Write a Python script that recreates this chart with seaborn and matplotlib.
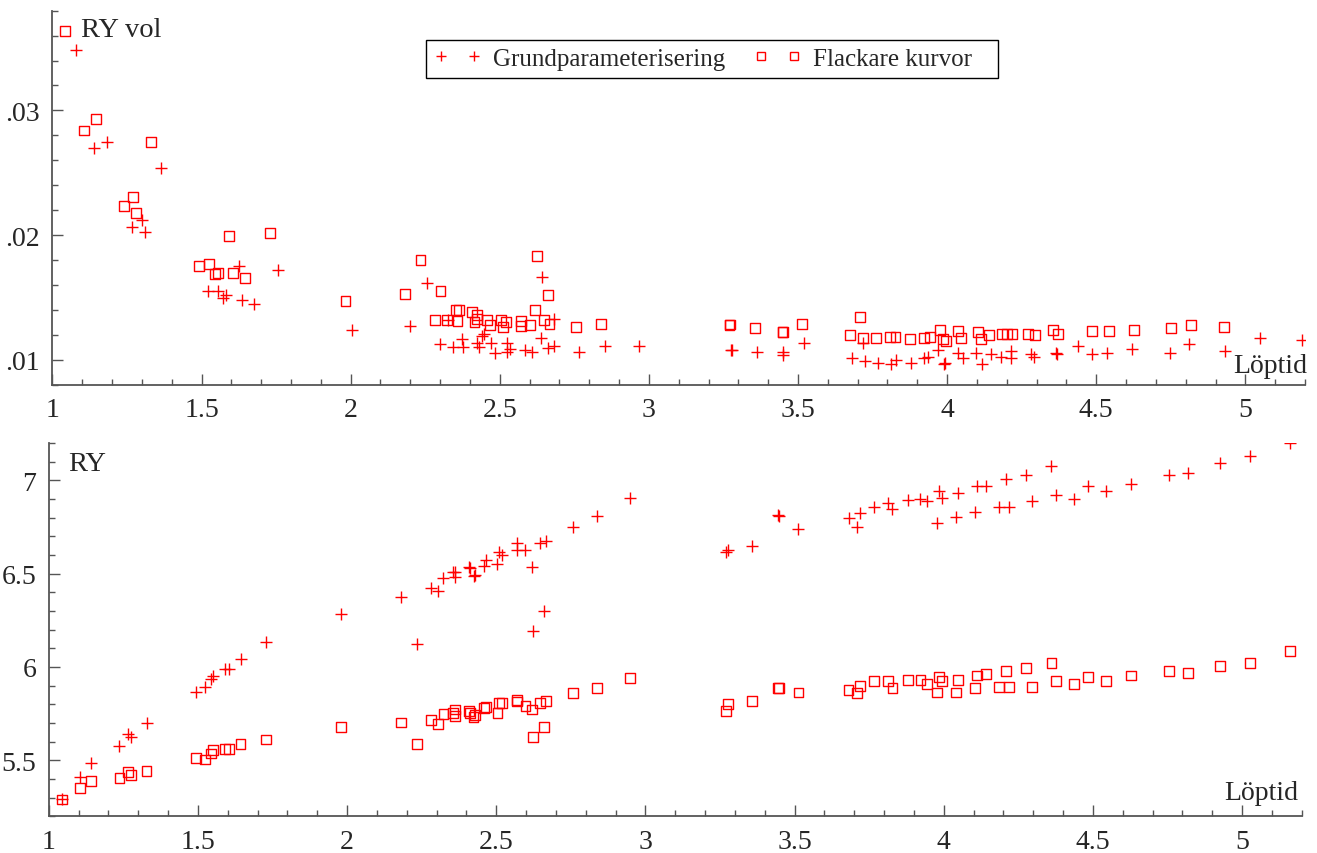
"""RY vol and RY against Löptid for two parameterisations"""
import matplotlib

matplotlib.use("Agg")
import matplotlib.pyplot as plt
import pandas as pd
import seaborn as sns
from matplotlib.lines import Line2D
from matplotlib.ticker import FuncFormatter, MultipleLocator

# top panel (RY vol), Grundparameterisering
vol_grund_x = [1.078, 1.140, 1.183, 1.268, 1.302, 1.311, 1.363, 1.522, 1.554, 1.573,
               1.583, 1.624, 1.637, 1.675, 1.757, 2.005,
               2.200, 2.257, 2.299, 2.325, 2.342, 2.372, 2.376, 2.425, 2.432, 2.441,
               2.446, 2.472, 2.483, 2.525, 2.525, 2.535, 2.583, 2.609, 2.641, 2.639,
               2.663, 2.681, 2.683, 2.765, 2.854, 2.966,
               3.276, 3.280, 3.361, 3.451, 3.451, 3.519, 3.681, 3.719, 3.725, 3.767,
               3.812, 3.829, 3.879, 3.924, 3.936, 3.970, 3.989, 3.994, 4.037, 4.052,
               4.098, 4.117, 4.148, 4.179, 4.213, 4.213, 4.281, 4.292, 4.366, 4.368,
               4.438, 4.485, 4.535, 4.621, 4.746, 4.811, 4.932, 5.049, 5.189]
vol_grund_y = [0.03488, 0.02695, 0.02743, 0.02066, 0.02117, 0.02023, 0.02537, 0.01554,
               0.01554, 0.01493, 0.01517, 0.01755, 0.01477, 0.01445, 0.01718, 0.01236,
               0.01273, 0.01616, 0.01125, 0.01321, 0.01102, 0.01166, 0.01102, 0.01131,
               0.01102, 0.01188, 0.01206, 0.01137, 0.01056, 0.01137, 0.01065, 0.01086,
               0.01075, 0.01064, 0.01660, 0.01172, 0.01092, 0.01327, 0.01110, 0.01062,
               0.01112, 0.01112,
               0.01078, 0.01082, 0.01064, 0.01064, 0.01040, 0.01137, 0.01011, 0.01134,
               0.00987, 0.00976, 0.00965, 0.00998, 0.00976, 0.01011, 0.01022, 0.01078,
               0.00965, 0.00976, 0.01051, 0.01011, 0.01056, 0.00965, 0.01046, 0.01022,
               0.01067, 0.01011, 0.01046, 0.01022, 0.01056, 0.01046, 0.01112, 0.01043,
               0.01054, 0.01088, 0.01056, 0.01126, 0.01067, 0.01172, 0.01158]

# top panel (RY vol), Flackare kurvor
vol_flack_x = [1.041, 1.107, 1.146, 1.241, 1.270, 1.280, 1.331, 1.492, 1.526, 1.545,
               1.554, 1.592, 1.606, 1.645, 1.730, 1.983,
               2.181, 2.234, 2.282, 2.301, 2.324, 2.352, 2.358, 2.362, 2.406, 2.415,
               2.425, 2.425, 2.458, 2.468, 2.505, 2.511, 2.520, 2.572, 2.572, 2.601,
               2.619, 2.624, 2.648, 2.663, 2.667, 2.756, 2.839,
               3.270, 3.272, 3.357, 3.448, 3.450, 3.514, 3.675, 3.709, 3.718, 3.761,
               3.808, 3.827, 3.875, 3.923, 3.942, 3.976, 3.985, 3.996, 4.037, 4.047,
               4.104, 4.114, 4.141, 4.184, 4.202, 4.219, 4.272, 4.294, 4.355, 4.371,
               4.486, 4.542, 4.627, 4.751, 4.817, 4.928]
vol_flack_y = [0.03638, 0.02839, 0.02931, 0.02235, 0.02304, 0.02178, 0.02749, 0.01755,
               0.01766, 0.01688, 0.01696, 0.01994, 0.01699, 0.01654, 0.02018, 0.01471,
               0.01528, 0.01803, 0.01321, 0.01552, 0.01321, 0.01402, 0.01311, 0.01402,
               0.01380, 0.01300, 0.01359, 0.01327, 0.01321, 0.01279, 0.01321, 0.01265,
               0.01300, 0.01313, 0.01273, 0.01279, 0.01402, 0.01835, 0.01321, 0.01517,
               0.01287, 0.01265, 0.01287,
               0.01279, 0.01282, 0.01255, 0.01220, 0.01224, 0.01287, 0.01198, 0.01345,
               0.01177, 0.01177, 0.01185, 0.01185, 0.01164, 0.01177, 0.01185, 0.01241,
               0.01164, 0.01153, 0.01233, 0.01177, 0.01220, 0.01164, 0.01198, 0.01209,
               0.01209, 0.01209, 0.01209, 0.01198, 0.01241, 0.01209, 0.01231, 0.01231,
               0.01241, 0.01255, 0.01276, 0.01265]

# bottom panel (RY), same maturities for both series
ry_x = [1.044, 1.105, 1.143, 1.237, 1.265, 1.276, 1.328, 1.495, 1.523, 1.543,
        1.551, 1.592, 1.604, 1.643, 1.729, 1.981,
        2.180, 2.234, 2.280, 2.305, 2.323, 2.354, 2.362, 2.362, 2.408, 2.412,
        2.424, 2.429, 2.459, 2.466, 2.504, 2.509, 2.520, 2.569, 2.570, 2.598,
        2.620, 2.624, 2.647, 2.661, 2.667, 2.757, 2.837, 2.948,
        3.271, 3.276, 3.357, 3.445, 3.447, 3.513, 3.681, 3.709, 3.720, 3.766,
        3.814, 3.828, 3.880, 3.922, 3.943, 3.977, 3.985, 3.995, 4.042, 4.047,
        4.104, 4.112, 4.142, 4.185, 4.209, 4.220,
        4.276, 4.295, 4.361, 4.377, 4.437, 4.484, 4.543, 4.628, 4.756, 4.818,
        4.927, 5.027, 5.161]
ry_grund = [5.29, 5.41, 5.486, 5.577, 5.641, 5.623, 5.70, 5.866, 5.891, 5.938,
            5.95, 5.99, 5.99, 6.043, 6.132, 6.284,
            6.377, 6.123, 6.421, 6.407, 6.475, 6.507, 6.511, 6.482, 6.536, 6.532,
            6.486, 6.491, 6.539, 6.575, 6.552, 6.616, 6.598, 6.664, 6.625, 6.625,
            6.536, 6.195, 6.666, 6.30, 6.673, 6.748, 6.811, 6.907,
            6.616, 6.629, 6.65, 6.814, 6.809, 6.741, 6.80, 6.748, 6.825, 6.857,
            6.88, 6.848, 6.895, 6.902, 6.887, 6.773, 6.945, 6.905, 6.802, 6.932,
            6.832, 6.97, 6.97, 6.857, 7.007, 6.857,
            7.03, 6.887, 7.077, 6.921, 6.902, 6.97, 6.941, 6.978, 7.03, 7.041,
            7.093, 7.128, 7.198]
ry_flack = [5.29, 5.352, 5.391, 5.406, 5.438, 5.42, 5.443, 5.511, 5.504, 5.536,
            5.557, 5.559, 5.559, 5.586, 5.611, 5.679,
            5.702, 5.588, 5.718, 5.695, 5.749, 5.755, 5.772, 5.739, 5.763, 5.755,
            5.73, 5.743, 5.779, 5.786, 5.755, 5.807, 5.809, 5.824, 5.815, 5.793,
            5.772, 5.625, 5.809, 5.68, 5.816, 5.861, 5.886, 5.939,
            5.762, 5.80, 5.816, 5.886, 5.886, 5.863, 5.877, 5.861, 5.90, 5.923,
            5.923, 5.888, 5.931, 5.931, 5.907, 5.863, 5.947, 5.923, 5.863, 5.931,
            5.888, 5.954, 5.961, 5.893, 5.977, 5.893,
            5.993, 5.893, 6.022, 5.923, 5.907, 5.945, 5.923, 5.954, 5.977, 5.968,
            6.006, 6.022, 6.084]

#  trailing spaces widen the legend box on the right like the original
labels = ["Grundparameterisering", "Flackare kurvor   "]

if __name__ == "__main__":
    sns.set_theme(style="ticks")
    plt.rcParams["font.family"] = ["Liberation Serif", "DejaVu Serif"]

    red = "#ff0000"
    axis_col = "#555555"
    fs = 20

    f = plt.figure(figsize=(13.17, 8.54), dpi=100)
    ax_top = f.add_axes([0.0398, 0.5484, 0.9511, 0.4379])
    ax_bot = f.add_axes([0.0370, 0.0430, 0.9514, 0.4371])

    top = pd.DataFrame({"x": vol_grund_x, "y": vol_grund_y})
    topf = pd.DataFrame({"x": vol_flack_x, "y": vol_flack_y})
    bot = pd.DataFrame({"x": ry_x, "grund": ry_grund, "flack": ry_flack})

    plus_kw = dict(marker="+", color=red, s=75, linewidth=1.0)
    sq_kw = dict(marker="s", color=red, facecolor="none", edgecolor=red, s=50, linewidth=1.0)

    sns.scatterplot(topf, x="x", y="y", ax=ax_top, **sq_kw)
    sns.scatterplot(top, x="x", y="y", ax=ax_top, **plus_kw)
    sns.scatterplot(bot, x="x", y="flack", ax=ax_bot, **sq_kw)
    sns.scatterplot(bot, x="x", y="grund", ax=ax_bot, **plus_kw)

    ax_top.set_ylim(0.008, 0.038)
    ax_bot.set_ylim(5.2, 7.2)
    ax_top.yaxis.set_major_locator(MultipleLocator(0.01))
    ax_top.yaxis.set_minor_locator(MultipleLocator(0.002))
    ax_top.yaxis.set_major_formatter(FuncFormatter(lambda v, p: f"{v:.2f}".lstrip("0")))
    ax_bot.yaxis.set_major_locator(MultipleLocator(0.5))
    ax_bot.yaxis.set_minor_locator(MultipleLocator(0.1))
    ax_bot.yaxis.set_major_formatter(FuncFormatter(lambda v, p: f"{v:g}"))

    for ax in (ax_top, ax_bot):
        ax.set_xlim(1, 5.2)
        ax.xaxis.set_major_locator(MultipleLocator(0.5))
        ax.xaxis.set_minor_locator(MultipleLocator(0.1))
        ax.xaxis.set_major_formatter(FuncFormatter(lambda v, p: f"{v:g}"))
        ax.set_xlabel("")
        ax.set_ylabel("")
        for side in ("top", "right"):
            ax.spines[side].set_visible(False)
        for side in ("left", "bottom"):
            ax.spines[side].set_color(axis_col)
            ax.spines[side].set_linewidth(1.3)
        ax.tick_params(which="major", direction="in", length=8, width=1.0,
                       color=axis_col, labelsize=fs, pad=9)
        ax.tick_params(which="minor", direction="in", length=4, width=1.0,
                       color=axis_col)

    ax_top.text(0.0226, 0.949, "RY vol", transform=ax_top.transAxes,
                fontsize=fs + 0.5, ha="left", va="center")
    ax_top.text(1.002, 0.05, "Löptid", transform=ax_top.transAxes,
                fontsize=fs, ha="right", va="center")
    ax_bot.text(0.0154, 0.946, "RY", transform=ax_bot.transAxes,
                fontsize=fs + 0.5, ha="left", va="center")
    ax_bot.text(0.997, 0.065, "Löptid", transform=ax_bot.transAxes,
                fontsize=fs, ha="right", va="center")

    #  legend with two markers per entry
    handles = [
        Line2D([], [], ls="none", marker="+", color=red, ms=7, mew=1.0),
        Line2D([], [], ls="none", marker="s", mfc="none", mec=red, ms=6, mew=1.0),
    ]
    leg = ax_top.legend(handles, labels, ncol=2, numpoints=2, loc="center",
                        bbox_to_anchor=(0.5406, 0.930), bbox_transform=f.transFigure,
                        fontsize=18, frameon=True, fancybox=False, framealpha=1,
                        edgecolor="black", handlelength=1.92, handletextpad=0.45,
                        columnspacing=1.14, borderpad=0.3, borderaxespad=0)
    leg.get_frame().set_linewidth(1.0)

    out = "out.png"
    print(f"plot to {out}")
    f.savefig(out, dpi=100)
